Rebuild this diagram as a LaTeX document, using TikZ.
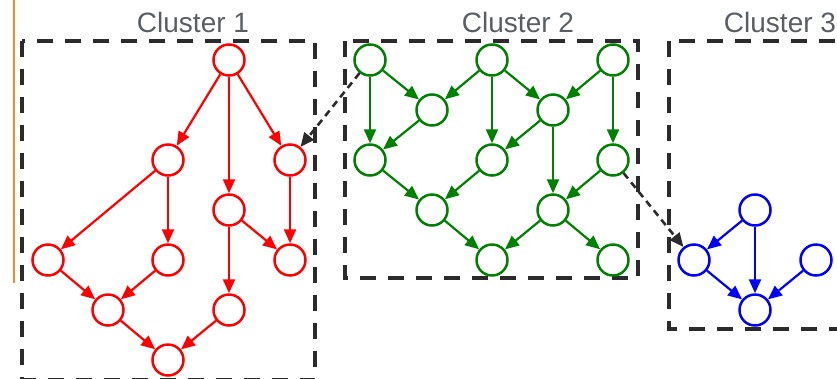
\documentclass[tikz,border=0pt]{standalone}
\usepackage{fontspec}
\setmainfont{Liberation Sans}
\usetikzlibrary{arrows.meta}
\definecolor{boxgray}{HTML}{2B2B2B}
\definecolor{labgray}{HTML}{5A5E63}
\definecolor{orng}{HTML}{F58A1F}
\definecolor{dgreen}{HTML}{008000}
\tikzset{
  vtx/.style={circle, draw, line width=2.5pt, minimum size=31pt, inner sep=0pt, fill=white},
  rv/.style={vtx, draw=red},
  gv/.style={vtx, draw=dgreen},
  bv/.style={vtx, draw=blue},
  tip/.style={-{Triangle[length=14pt,width=12pt]}},
  re/.style={draw=red, line width=2.2pt, tip, red},
  ge/.style={draw=dgreen, line width=2.2pt, tip, dgreen},
  be/.style={draw=blue, line width=2.2pt, tip, blue},
  xe/.style={draw=boxgray, line width=2.6pt, dash pattern=on 7pt off 5pt, tip, boxgray},
  clbox/.style={draw=boxgray, line width=3.6pt, dash pattern=on 16pt off 12pt},
  cltext/.style={text=labgray, font=\fontsize{28}{30}\selectfont, inner sep=0pt}
}
\begin{document}
\begin{tikzpicture}[x=1pt,y=-1pt]
\useasboundingbox (0,0) rectangle (837,378);
\draw[orng, line width=2pt] (13.5,0) -- (13.5,283);
% boxes
\draw[clbox] (22,41) rectangle (315,379.5);
\draw[clbox] (345,41) rectangle (638,278);
\draw[clbox] (669,41) rectangle (842,329);
\node[cltext] (l1) at (193,22) {Cluster 1};
\node[cltext] (l2) at (518,22) {Cluster 2};
\node[cltext] (l3) at (780,22) {Cluster 3};
% cluster 1
\node[rv] (A) at (229,60) {};
\node[rv] (B) at (168,160) {};
\node[rv] (C) at (290,160) {};
\node[rv] (D) at (229,210) {};
\node[rv] (E) at (48,260) {};
\node[rv] (F) at (168,260) {};
\node[rv] (G) at (290,260) {};
\node[rv] (H) at (108,310) {};
\node[rv] (I) at (229,310) {};
\node[rv] (J) at (168,360) {};
\foreach \s/\t in {A/B,A/D,A/C,B/E,B/F,C/G,D/G,D/I,E/H,F/H,H/J,I/J}
  \draw[re] (\s) -- (\t);
% cluster 2
\node[gv] (a1) at (370,60) {};
\node[gv] (a2) at (492,60) {};
\node[gv] (a3) at (613,60) {};
\node[gv] (b1) at (432,110) {};
\node[gv] (b2) at (553,110) {};
\node[gv] (c1) at (370,160) {};
\node[gv] (c2) at (492,160) {};
\node[gv] (c3) at (613,160) {};
\node[gv] (d1) at (432,210) {};
\node[gv] (d2) at (553,210) {};
\node[gv] (e1) at (492,260) {};
\node[gv] (e2) at (613,260) {};
\foreach \s/\t in {a1/b1,a1/c1,a2/b1,a2/c2,a2/b2,a3/b2,a3/c3,b1/c1,b2/c2,b2/d2,c1/d1,c2/d1,c3/d2,d1/e1,d2/e1,d2/e2}
  \draw[ge] (\s) -- (\t);
% cluster 3
\node[bv] (p) at (755,210) {};
\node[bv] (q) at (694,260) {};
\node[bv] (r) at (816,260) {};
\node[bv] (s) at (755,310) {};
\foreach \s/\t in {p/q,p/s,q/s,r/s}
  \draw[be] (\s) -- (\t);
% inter-cluster
\draw[xe] (a1) -- (C);
\draw[xe] (c3) -- (q);
\end{tikzpicture}
\end{document}
